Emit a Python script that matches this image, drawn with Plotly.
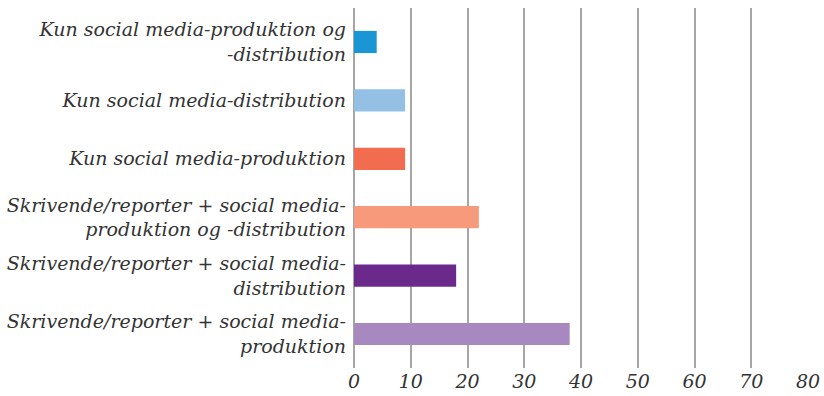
import plotly.graph_objects as go

categories = [
    "Kun social media-produktion og<br>-distribution",
    "Kun social media-distribution",
    "Kun social media-produktion",
    "Skrivende/reporter + social media-<br>produktion og -distribution",
    "Skrivende/reporter + social media-<br>distribution",
    "Skrivende/reporter + social media-<br>produktion",
]
values = [4, 9, 9, 22, 18, 38]
colors = ["#1a96d4", "#94c0e6", "#f26c4f", "#f69a7b", "#6b2a8b", "#a788bf"]
tick_vals = [0, 10, 20, 30, 40, 50, 60, 70, 80]

font_family = "DejaVu Serif"
text_color = "#333333"

fig = go.Figure()
fig.add_trace(go.Bar(
    y=categories,
    x=values,
    orientation="h",
    marker=dict(color=colors, line=dict(width=0)),
    width=0.38,
    hoverinfo="x+y",
))

fig.update_layout(
    template="none",
    width=824,
    height=396,
    margin=dict(l=354, r=16, t=8, b=28),
    plot_bgcolor="white",
    paper_bgcolor="white",
    showlegend=False,
    font=dict(family=font_family, size=19, color=text_color, style="italic"),
    xaxis=dict(
        range=[0, 80],
        tickvals=tick_vals,
        showgrid=True,
        gridcolor="#a6a6a6",
        gridwidth=1.5,
        zeroline=True,
        zerolinecolor="#a6a6a6",
        zerolinewidth=1.5,
        showline=False,
        ticks="",
        automargin=False,
        tickfont=dict(family=font_family, size=19, color=text_color, style="italic"),
    ),
    yaxis=dict(
        autorange=False,
        range=[5.582, -0.582],
        showgrid=False,
        zeroline=False,
        showline=False,
        ticks="",
        ticklabelstandoff=7,
        automargin=False,
        tickfont=dict(family=font_family, size=19, color=text_color, style="italic"),
    ),
)

# drop the default body margin so the figure fills the window exactly
fig.write_html(
    "out.html",
    config={"displayModeBar": False},
    post_script="document.body.style.margin='0';",
)
